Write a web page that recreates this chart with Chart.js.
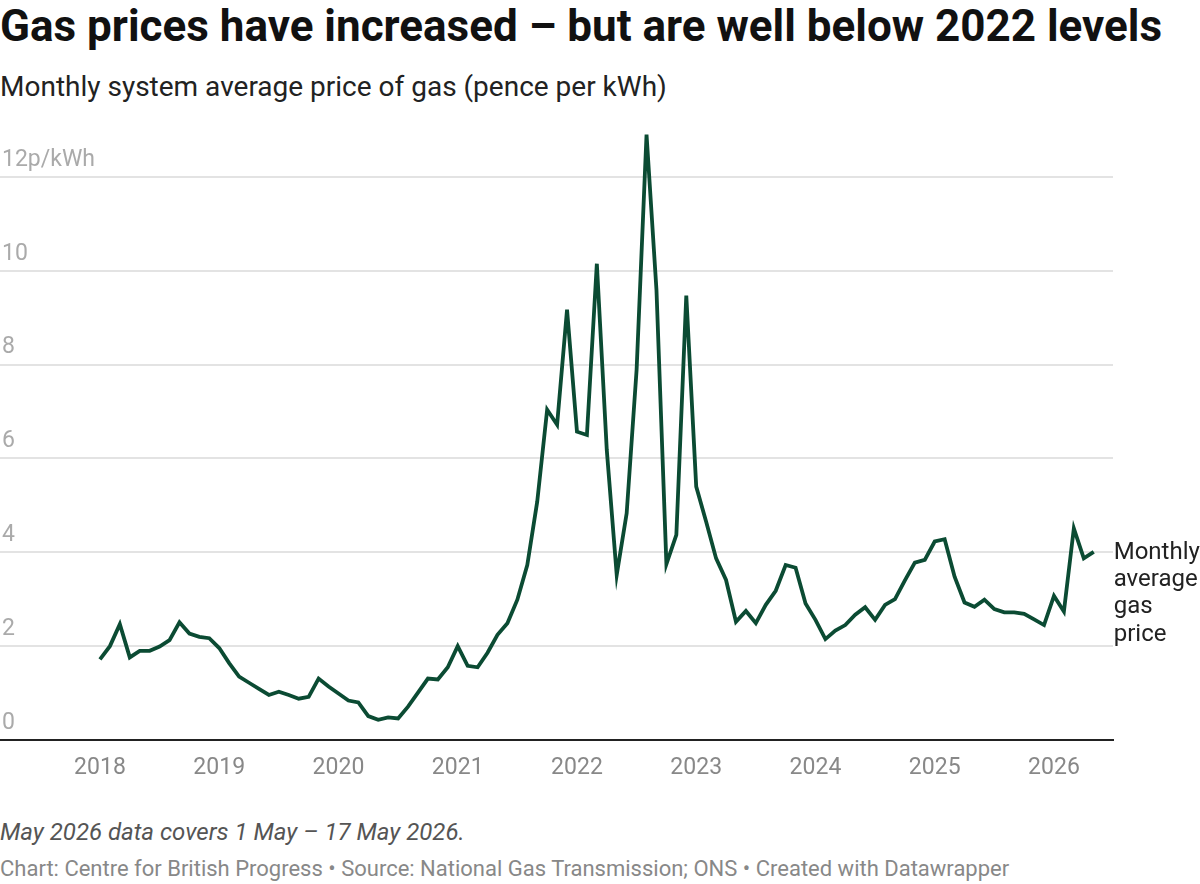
<!DOCTYPE html>
<html>
<head>
<meta charset="utf-8">
<script src="https://cdn.jsdelivr.net/npm/chart.js@4"></script>
<style>
  body { margin: 0; background: #fff; font-family: Roboto, sans-serif; }
  #wrap { position: relative; width: 1200px; height: 884px; overflow: hidden; }
  .txt { position: absolute; left: 0; white-space: nowrap; }
  #title { top: 1px; font-size: 44px; line-height: 50px; font-weight: 700; color: #111; }
  #subtitle { top: 70px; font-size: 28px; line-height: 33px; color: #222; }
  #note { top: 818px; font-size: 24px; line-height: 28px; font-style: italic; color: #555; }
  #credit { top: 856px; font-size: 22px; line-height: 26px; color: #888; }
  #box { position: absolute; left: 0; top: 110px; width: 1200px; height: 690px; }
</style>
</head>
<body>
<div id="wrap">
  <div class="txt" id="title">Gas prices have increased – but are well below 2022 levels</div>
  <div class="txt" id="subtitle">Monthly system average price of gas (pence per kWh)</div>
  <div id="box"><canvas id="chart-gas"></canvas></div>
  <div class="txt" id="note">May 2026 data covers 1 May – 17 May 2026.</div>
  <div class="txt" id="credit">Chart: Centre for British Progress • Source: National Gas Transmission; ONS • Created with Datawrapper</div>
</div>
<script>
// monthly average gas price, p/kWh, Jan 2018 .. May 2026
const startYear = 2018;
const price2018 = [1.72, 2.00, 2.47, 1.76, 1.90, 1.90, 1.99, 2.13, 2.51, 2.27, 2.20, 2.17];
const price2019 = [1.96, 1.64, 1.35, 1.22, 1.09, 0.96, 1.03, 0.96, 0.88, 0.92, 1.31, 1.14];
const price2020 = [0.99, 0.84, 0.80, 0.51, 0.43, 0.48, 0.46, 0.71, 1.01, 1.31, 1.29, 1.55];
const price2021 = [2.00, 1.58, 1.55, 1.86, 2.24, 2.49, 2.99, 3.73, 5.08, 7.04, 6.72, 9.17];
const price2022 = [6.57, 6.50, 10.15, 6.18, 3.52, 4.83, 7.89, 12.9, 9.59, 3.75, 4.37, 9.47];
const price2023 = [5.40, 4.65, 3.87, 3.41, 2.52, 2.75, 2.49, 2.88, 3.18, 3.73, 3.67, 2.91];
const price2024 = [2.56, 2.15, 2.33, 2.45, 2.67, 2.83, 2.56, 2.88, 3.00, 3.40, 3.78, 3.84];
const price2025 = [4.23, 4.28, 3.48, 2.93, 2.84, 2.99, 2.79, 2.72, 2.72, 2.69, 2.57, 2.45];
const price2026 = [3.07, 2.74, 4.51, 3.87, 4.01];

const yearTicks = [2018, 2019, 2020, 2021, 2022, 2023, 2024, 2025, 2026];
const priceTicks = [0, 2, 4, 6, 8, 10, 12];
const seriesLabel = ["Monthly", "average", "gas", "price"];

const prices = [].concat(price2018, price2019, price2020, price2021, price2022,
  price2023, price2024, price2025, price2026);
// x = months since Jan 2018
const points = prices.map((v, i) => ({ x: i, y: v }));

const lineLabel = {
  id: "lineLabel",
  afterDatasetsDraw(chart) {
    const meta = chart.getDatasetMeta(0);
    const last = meta.data[meta.data.length - 1];
    const ctx = chart.ctx;
    ctx.save();
    ctx.font = "24px Roboto";
    ctx.fillStyle = "#222";
    ctx.textBaseline = "middle";
    ctx.textAlign = "left";
    seriesLabel.forEach((t, i) => ctx.fillText(t, last.x + 20, last.y + 1 + i * 27.3));
    ctx.restore();
  }
};

const gas = document.getElementById("chart-gas");
new Chart(gas, {
  type: "line",
  data: {
    datasets: [
      {
        data: points,
        borderColor: "#0b4b33",
        borderWidth: 3.8,
        pointRadius: 0,
        tension: 0,
        clip: false,
      },
    ],
  },
  options: {
    responsive: true,
    maintainAspectRatio: false,
    animation: false,
    layout: { padding: { top: 20, right: 87, left: 0, bottom: 0 } },
    plugins: {
      legend: { display: false },
      tooltip: { enabled: false },
    },
    scales: {
      x: {
        type: "linear",
        min: -10.06,
        max: 101.94,
        afterBuildTicks: (s) => { s.ticks = yearTicks.map(y => ({ value: (y - startYear) * 12 })); },
        afterFit: (s) => { s.height = 60; },
        grid: { display: false, drawTicks: false },
        border: { display: true, color: "#222", width: 2 },
        ticks: {
          padding: 14,
          color: "#888",
          font: { family: "Roboto", size: 23 },
          callback: (v) => String(startYear + v / 12),
          maxRotation: 0,
        },
      },
      y: {
        min: 0,
        max: 13,
        afterBuildTicks: (s) => { s.ticks = priceTicks.map(v => ({ value: v })); },
        afterFit: (s) => { s.width = 0; },
        grid: { color: "#e3e3e3", lineWidth: 2, drawTicks: false },
        border: { display: false },
        ticks: {
          mirror: true,
          padding: 2,
          labelOffset: -17,
          color: "#aaa",
          font: { family: "Roboto", size: 23 },
          callback: (v) => v === 12 ? "12p/kWh" : String(v),
        },
      },
    },
  },
  plugins: [lineLabel],
});
</script>
</body>
</html>
